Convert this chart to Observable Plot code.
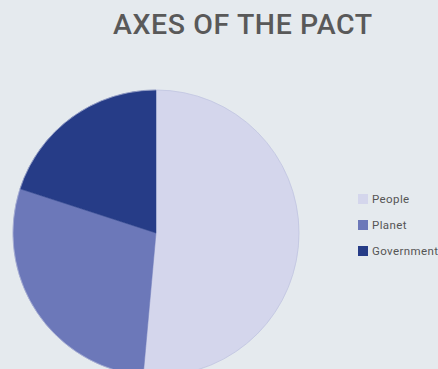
<!DOCTYPE html>
<html>
<head>
<meta charset="utf-8">
<script src="https://cdn.jsdelivr.net/npm/d3@7"></script>
<script src="https://cdn.jsdelivr.net/npm/@observablehq/plot@0.6"></script>
<style>
  html, body { margin: 0; padding: 0; background: #e5eaee; overflow: hidden; }
  #wrap { position: relative; width: 438px; height: 369px; overflow: hidden; }
  #title { height: 62px; box-sizing: border-box; padding-top: 8px; padding-left: 113px;
    font-family: Roboto, sans-serif; font-weight: 500; font-size: 28.5px; color: #595959;
    letter-spacing: 0.6px; white-space: nowrap; }
  #legend { position: absolute; left: 358px; top: 192px; font-family: Roboto, sans-serif;
    font-size: 11.5px; color: #555555; letter-spacing: 0.4px; }
  .item { display: flex; align-items: center; height: 13px; margin-bottom: 13px; white-space: nowrap; }
  .sw { width: 10px; height: 10px; margin-right: 4px; flex: none; }
  svg { display: block; }
</style>
</head>
<body>
<div id="wrap">
  <div id="title"></div>
  <div id="chart"></div>
  <div id="legend"></div>
</div>
<script>
const title = "AXES OF THE PACT";
const categories = ["People", "Planet", "Government"];
const values = [36, 20, 14];
const colors = ["#d4d6ec", "#6c78b9", "#263c87"];

document.getElementById("title").textContent = title;

const data = categories.map((c, i) => ({category: c, value: values[i]}));

const pieMark = (index, scales, vals, dims) => {
  const cx = 156, cy = 171, r = 143;
  const arcs = d3.pie().sort(null).value(d => d.value)(data);
  const arc = d3.arc().innerRadius(0).outerRadius(r);
  const g = d3.create("svg:g").attr("transform", `translate(${cx},${cy})`);
  g.selectAll("path").data(arcs).join("path")
    .attr("d", arc)
    .attr("fill", d => scales.color(d.data.category))
    .attr("stroke", d => scales.color(d.data.category))
    .attr("stroke-width", 0.5);
  g.append("circle").attr("r", r).attr("fill", "none").attr("stroke", "#b9bddc").attr("stroke-width", 0.6);
  return g.node();
};

const plot = Plot.plot({
  width: 438,
  height: 307,
  margin: 0,
  style: {background: "transparent", overflow: "hidden"},
  x: {axis: null, domain: [0, 1]},
  y: {axis: null, domain: [0, 1]},
  color: {domain: categories, range: colors},
  marks: [
    Plot.dot(data, {x: () => 0, y: () => 0, fill: "category", r: 0}),
    pieMark
  ]
});
document.getElementById("chart").appendChild(plot);

const color = plot.scale("color");
const legend = d3.select("#legend");
categories.forEach((c, i) => {
  const it = legend.append("div").attr("class", "item");
  it.append("div").attr("class", "sw").style("background", color.range[i]);
  it.append("span").text(c);
});
</script>
</body>
</html>
